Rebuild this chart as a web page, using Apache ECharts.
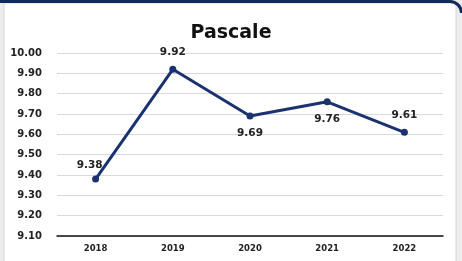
<!DOCTYPE html>
<html><head><meta charset="utf-8">
<script src="https://cdn.jsdelivr.net/npm/echarts@6/dist/echarts.min.js"></script>
<style>html,body{margin:0;padding:0;background:#ececec;}#c{width:462px;height:261px;}</style>
</head><body><div id="c"></div>
<script>
const categories = ['2018','2019','2020','2021','2022'];
const values = [9.38, 9.92, 9.69, 9.76, 9.61];
const labelPositions = ['top','top','bottom','bottom','top'];
const labelOffsets = [[-6,3],[0,0],[0,0],[0,0],[0,0]];
const yTicks = {min: 9.1, max: 10.0, interval: 0.1};
const title = 'Pascale';
const FONT = 'DejaVu Sans';
const chart = echarts.init(document.getElementById('c'));
chart.setOption({
  animation: false,
  backgroundColor: 'transparent',
  graphic: [
    {type:'rect', z:-10, shape:{x:4,y:3,width:452,height:262}, style:{fill:'#ffffff', stroke:'#d6d6d6', lineWidth:1}},
    {type:'line', z:-5, shape:{x1:0,y1:1.5,x2:450,y2:1.5}, style:{stroke:'#0f2a5e', lineWidth:3}},
    {type:'arc', z:-5, shape:{cx:450,cy:13,r:11.5,startAngle:-Math.PI/2,endAngle:0}, style:{stroke:'#0f2a5e', lineWidth:3, fill:null}}
  ],
  title: {text: title, left: 'center', top: 19, textStyle:{fontFamily: FONT, fontWeight:'bold', fontSize:19, color:'#111'}},
  grid: {left: 57, right: 19, top: 53, bottom: 25},
  xAxis: {type:'category', data: categories, boundaryGap: true,
    axisLine:{lineStyle:{color:'#111', width:1.5}}, axisTick:{show:false},
    axisLabel:{fontFamily: FONT, fontWeight:'bold', fontSize:8.5, color:'#222', margin:8}},
  yAxis: {type:'value', min: yTicks.min, max: yTicks.max, interval: yTicks.interval,
    axisLine:{show:false}, axisTick:{show:false},
    axisLabel:{fontFamily: FONT, fontWeight:'bold', fontSize:10, color:'#222', margin:15, formatter: v => v.toFixed(2)},
    splitLine:{lineStyle:{color:'#d9d9d9', width:1}}},
  series: [{
    type:'line', data: values.map((v,i)=>({value:v, label:{position: labelPositions[i], offset: labelOffsets[i]}})),
    symbol:'circle', symbolSize:7,
    lineStyle:{color:'#1b3270', width:3}, itemStyle:{color:'#1b3270'},
    label:{show:true, distance:8, fontFamily: FONT, fontWeight:'bold', fontSize:10.5, color:'#222', formatter: p => p.value.toFixed(2)}
  }]
});
</script></body></html>
